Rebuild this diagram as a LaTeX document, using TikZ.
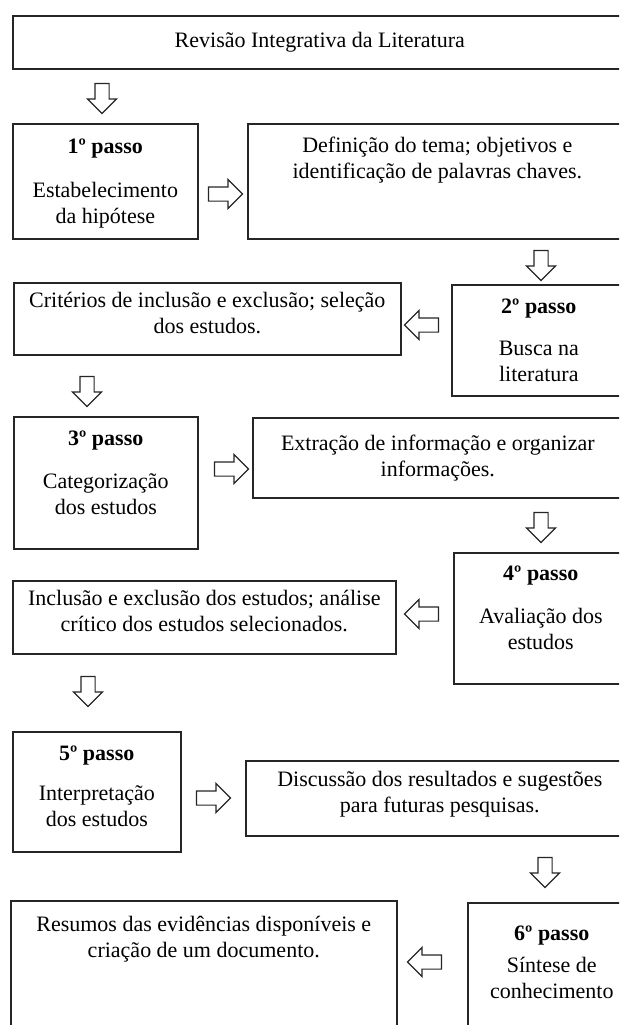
\documentclass[tikz,border=0pt]{standalone}
\usepackage{fontspec}
\setmainfont{Liberation Serif}
\usepackage{tikz}
\usetikzlibrary{shapes.arrows}
\newcommand{\caixa}[4]{\begin{minipage}[t][#3][t]{#2}\centering\rule{0pt}{#1}#4\end{minipage}}

\begin{document}
\begin{tikzpicture}[x=1pt,y=-1pt,
  caixa/.style={draw=black!85, line width=1.6pt, inner sep=0pt, anchor=north west, font=\fontsize{22}{25.5}\selectfont},
  seta/.style={single arrow, draw=black!85, fill=white, line width=1.2pt, inner sep=6.5pt, single arrow head extend=7.5pt, single arrow head indent=0pt},
  baixo/.style={seta, shape border rotate=270, minimum height=30pt},
  direita/.style={seta, minimum height=34pt},
  esquerda/.style={seta, shape border rotate=180, minimum height=34pt}]
\useasboundingbox (0,0) rectangle (619,1025);
\clip (0,0) rectangle (619,1025);
\node[caixa] (rev) at (12,15) {\caixa{32pt}{614pt}{53pt}{Revisão Integrativa da Literatura}};
\node[baixo] (s1) at (102,95) {};
\node[caixa] (p1) at (12,123) {\caixa{30pt}{185pt}{115pt}{\textbf{1º passo}\\[18.5pt]Estabelecimento\\da hipótese}};
\node[direita] (s2) at (222,194) {};
\node[caixa] (tema) at (247,123) {\caixa{29pt}{379pt}{115pt}{Definição do tema; objetivos e\\identificação de palavras chaves.}};
\node[baixo] (s3) at (541,262) {};
\node[caixa] (crit) at (13,282) {\caixa{25pt}{387pt}{72pt}{Critérios de inclusão e exclusão; seleção\\dos estudos.}};
\node[esquerda] (s4) at (425,325) {};
\node[caixa] (p2) at (451,284) {\caixa{29pt}{174pt}{111pt}{\textbf{2º passo}\\[16.5pt]Busca na\\literatura}};
\node[baixo] (s5) at (87,388) {};
\node[caixa] (p3) at (13,416) {\caixa{29pt}{184pt}{132pt}{\textbf{3º passo}\\[17.5pt]Categorização\\dos estudos}};
\node[direita] (s6) at (228,469) {};
\node[caixa] (extr) at (252,417) {\caixa{33pt}{370pt}{80pt}{Extração de informação e organizar\\informações.}};
\node[baixo] (s7) at (541,524) {};
\node[caixa] (p4) at (453,552) {\caixa{28pt}{174pt}{131pt}{\textbf{4º passo}\\[17.5pt]Avaliação dos\\estudos}};
\node[esquerda] (s8) at (425,614) {};
\node[caixa] (incl) at (12,580) {\caixa{25pt}{383pt}{73pt}{Inclusão e exclusão dos estudos; análise\\crítico dos estudos selecionados.}};
\node[baixo] (s9) at (88,688) {};
\node[caixa] (p5) at (12,731) {\caixa{29pt}{168pt}{120pt}{\textbf{5º passo}\\[14.5pt]Interpretação\\dos estudos}};
\node[direita] (s10) at (210,798) {};
\node[caixa] (disc) at (245,760) {\caixa{26pt}{388pt}{75pt}{Discussão dos resultados e sugestões\\para futuras pesquisas.}};
\node[baixo] (s11) at (545,869) {};
\node[caixa] (resu) at (10,900) {\caixa{31pt}{386pt}{140pt}{Resumos das evidências disponíveis e\\criação de um documento.}};
\node[esquerda] (s12) at (428,962) {};
\node[caixa] (p6) at (467,902) {\caixa{38pt}{168pt}{140pt}{\textbf{6º passo}\\[6.5pt]Síntese de\\conhecimento}};
\end{tikzpicture}
\end{document}
